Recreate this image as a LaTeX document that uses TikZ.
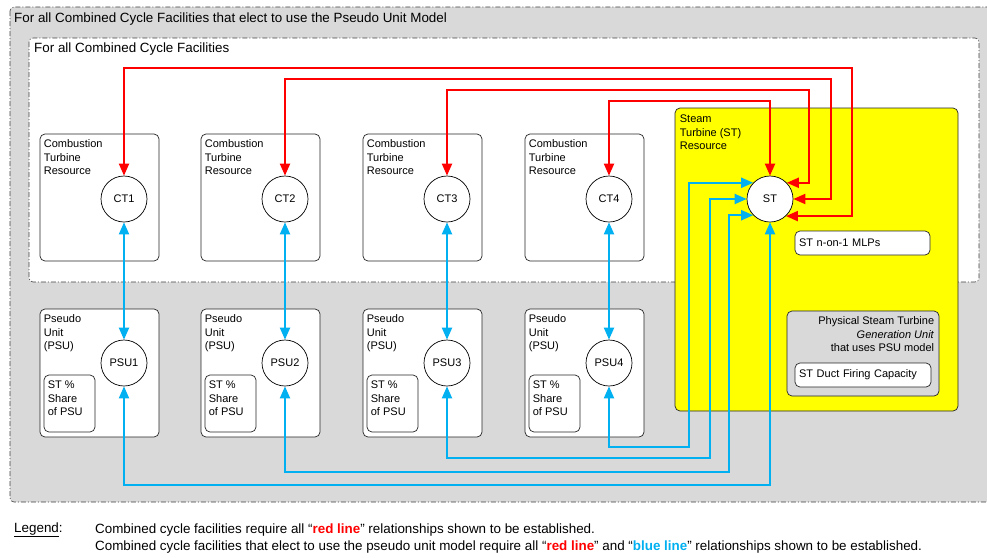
\documentclass[tikz,border=0pt]{standalone}
\usepackage{fontspec}
\setmainfont{Liberation Sans}
\usetikzlibrary{arrows.meta}
\usetikzlibrary{positioning}
\definecolor{mred}{RGB}{255,0,0}
\definecolor{mblue}{RGB}{0,176,240}
\definecolor{mgray}{RGB}{217,217,217}
\definecolor{myellow}{RGB}{255,255,0}
\tikzset{
  frame/.style={draw=black!75, line width=0.6pt, dash pattern=on 5pt off 2pt on 1pt off 2pt, rounded corners=4pt},
  resbox/.style={draw=black!85, line width=0.7pt, rounded corners=5pt, fill=white, minimum width=119pt, inner sep=0pt},
  sharebox/.style={draw=black!85, line width=0.7pt, rounded corners=5pt, fill=white, minimum width=51pt, minimum height=57pt, inner sep=0pt},
  smallbox/.style={draw=black!85, line width=0.7pt, rounded corners=5pt, fill=white, minimum height=24pt, inner xsep=4pt, inner ysep=0pt, align=left, font=\fontsize{11}{13.5}\selectfont},
  unit/.style={circle, draw, line width=0.7pt, fill=white, minimum size=46pt, inner sep=0pt, font=\fontsize{11}{13.5}\selectfont},
  boxtext/.style={align=left, inner sep=0pt, font=\fontsize{11}{13.5}\selectfont},
  title/.style={anchor=west, inner sep=0pt, font=\fontsize{13.4}{16}\selectfont},
  redarrow/.style={<->, >={Triangle[length=12pt,width=10pt]}, draw=mred, line width=2pt},
  bluearrow/.style={<->, >={Triangle[length=12pt,width=10pt]}, draw=mblue, line width=2pt}
}
\begin{document}
\begin{tikzpicture}[x=1pt, y=-1pt]
  \clip (0,0) rectangle (987,557);
  % frames
  \draw[frame, fill=mgray] (10,7) rectangle (1000,502);
  \node[title] (outertitle) at (14,19) {For all Combined Cycle Facilities that elect to use the Pseudo Unit Model};
  \draw[frame, fill=white] (29,38) rectangle (979,282);
  \node[title] (innertitle) at (34,49) {For all Combined Cycle Facilities};

  % steam turbine resource
  \node[resbox, fill=myellow, minimum width=283pt, minimum height=303pt] (stres) at (816.5,259.5) {};
  \node[boxtext, below right=7pt and 5pt of stres.north west] (stlabel) {Steam\\Turbine (ST)\\Resource};
  \node[smallbox, minimum width=135pt, text width=127pt] (mlps) at (862.5,243) {ST n-on-1 MLPs};
  \node[resbox, fill=mgray, minimum width=152pt, minimum height=85pt] (physbox) at (863,353.5) {};
  \node[boxtext, align=right, below left=6pt and 5pt of physbox.north east] (physlabel) {Physical Steam Turbine\\\textit{Generation Unit}\\that uses PSU model};
  \node[smallbox, minimum width=136pt, text width=128pt] (duct) at (863,375) {ST Duct Firing Capacity};
  \node[unit] (st) at (770,199) {ST};

  % combustion turbines and pseudo units
  \foreach \i/\x in {1/124, 2/285, 3/447, 4/609} {
    \node[resbox, minimum height=127pt] (ctres\i) at (\x-24.5,197.5) {};
    \node[boxtext, below right=6pt and 4pt of ctres\i.north west] (cttext\i) {Combustion\\Turbine\\Resource};
    \node[unit] (ct\i) at (\x,199) {CT\i};
    \node[resbox, minimum height=128pt] (psures\i) at (\x-24.5,373) {};
    \node[boxtext, below right=6pt and 4pt of psures\i.north west] (psutext\i) {Pseudo\\Unit\\(PSU)};
    \node[unit] (psu\i) at (\x,363) {PSU\i};
    \node[sharebox] (share\i) at (\x-54.5,403.5) {};
    \node[boxtext, below right=6pt and 4pt of share\i.north west] (sharetext\i) {ST \%\\Share\\of PSU};
    \draw[bluearrow] (ct\i) -- (psu\i);
  }

  % red relationships
  \draw[redarrow] (ct1) |- (852,68) |- (st.-47);
  \draw[redarrow] (ct2) |- (831,79) |- (st.east);
  \draw[redarrow] (ct3) |- (809,90) |- (st.44);
  \draw[redarrow] (ct4) |- (770,101) -- (st);

  % blue relationships
  \draw[bluearrow] (st.136) -| (689,447) -| (psu4);
  \draw[bluearrow] (st.west) -| (710,458) -| (psu3);
  \draw[bluearrow] (st.-136) -| (729,472) -| (psu2);
  \draw[bluearrow] (st) -- (770,485) -| (psu1);

  % legend
  \node[title] (legendkey) at (14,530) {\underline{Legend}:};
  \node[title] (legendone) at (95,530) {Combined cycle facilities require all “\textcolor{mred}{\textbf{red line}}” relationships shown to be established.};
  \node[title] (legendtwo) at (95,547) {Combined cycle facilities that elect to use the pseudo unit model require all “\textcolor{mred}{\textbf{red line}}” and “\textcolor{mblue}{\textbf{blue line}}” relationships shown to be established.};
\end{tikzpicture}
\end{document}
